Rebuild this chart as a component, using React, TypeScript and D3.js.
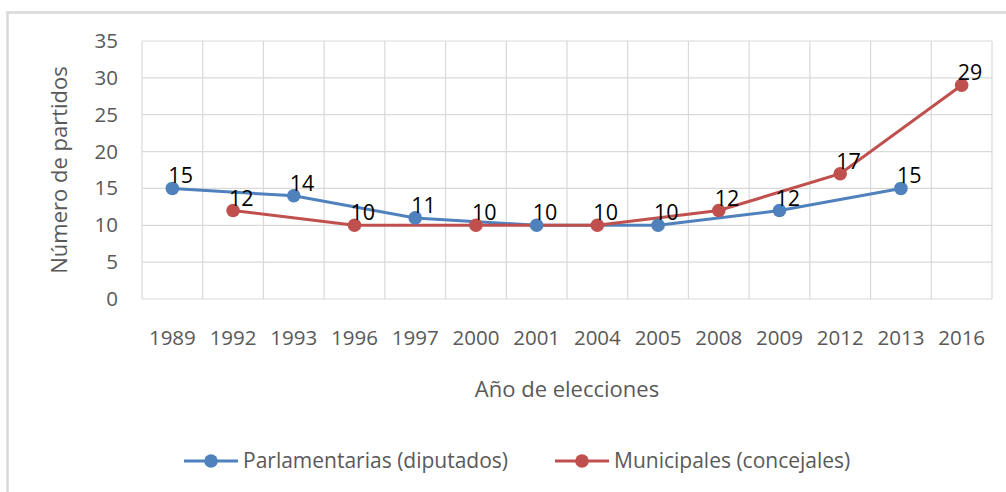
import React from "react";
import * as d3 from "d3";

const years = ["1989", "1992", "1993", "1996", "1997", "2000", "2001", "2004", "2005", "2008", "2009", "2012", "2013", "2016"];
const parlYears = ["1989", "1993", "1997", "2001", "2005", "2009", "2013"];
const parlValues = [15, 14, 11, 10, 10, 12, 15];
const muniYears = ["1992", "1996", "2000", "2004", "2008", "2012", "2016"];
const muniValues = [12, 10, 10, 10, 12, 17, 29];
const yTicks = [0, 5, 10, 15, 20, 25, 30, 35];

const W = 1006;
const H = 492;
const FONT = "'Open Sans', 'Liberation Sans', sans-serif";
const GRAY = "#595959";
const GRID = "#D9D9D9";

const series = [
  { name: "Parlamentarias (diputados)", color: "#4F81BD", years: parlYears, values: parlValues },
  { name: "Municipales (concejales)", color: "#C0504D", years: muniYears, values: muniValues },
];

export default function App() {
  const x = d3.scaleBand<string>().domain(years).range([142, 992]).paddingInner(0).paddingOuter(0);
  const y = d3.scaleLinear().domain([0, 35]).range([299, 41]);
  const cx = (yr: string) => (x(yr) ?? 0) + x.bandwidth() / 2;

  const line = d3
    .line<[string, number]>()
    .x((d) => cx(d[0]))
    .y((d) => y(d[1]));

  const pts = series.map((s) => s.years.map((yr, i) => [yr, s.values[i]] as [string, number]));

  // legend entry placement
  const legendPos = [
    { x1: 184, x2: 238, tx: 243 },
    { x1: 555, x2: 609, tx: 614 },
  ];

  return (
    <svg
      width={W}
      height={H}
      style={{ position: "absolute", left: 0, top: 0, background: "#fff" }}
      fontFamily={FONT}
    >
      <rect x={7.5} y={12.5} width={W + 20} height={H + 20} fill="#fff" stroke={GRID} strokeWidth={2.5} />

      {/* gridlines */}
      {yTicks.map((t) => (
        <line key={"h" + t} x1={142} x2={992} y1={y(t)} y2={y(t)} stroke={GRID} strokeWidth={1.2} />
      ))}
      {years.map((yr) => (
        <line key={"v" + yr} x1={x(yr)} x2={x(yr)} y1={41} y2={299} stroke={GRID} strokeWidth={1.2} />
      ))}
      <line x1={992} x2={992} y1={41} y2={299} stroke={GRID} strokeWidth={1.2} />

      {/* y tick labels */}
      {yTicks.map((t) => (
        <text key={"yt" + t} x={118} y={y(t) + 7} textAnchor="end" fontSize={20.5} fill={GRAY}>
          {t}
        </text>
      ))}

      {/* x tick labels */}
      {years.map((yr) => (
        <text key={"xt" + yr} x={cx(yr)} y={345} textAnchor="middle" fontSize={20.5} fill={GRAY}>
          {yr}
        </text>
      ))}

      {/* axis titles */}
      <text x={567} y={397} textAnchor="middle" fontSize={22} fill={GRAY}>
        Año de elecciones
      </text>
      <text transform="translate(67,170) rotate(-90)" textAnchor="middle" fontSize={22} fill={GRAY}>
        Número de partidos
      </text>

      {/* lines first, then markers, then labels */}
      {series.map((s, i) => (
        <path key={"l" + i} d={line(pts[i]) ?? ""} fill="none" stroke={s.color} strokeWidth={3} />
      ))}
      {series.map((s, i) =>
        pts[i].map((p) => <circle key={s.name + p[0]} cx={cx(p[0])} cy={y(p[1])} r={6.8} fill={s.color} />)
      )}
      {series.map((s, i) =>
        pts[i].map((p) => (
          <text key={"dl" + s.name + p[0]} x={cx(p[0]) - 4} y={y(p[1]) - 5} fontSize={21.5} fill="#000">
            {p[1]}
          </text>
        ))
      )}

      {/* legend */}
      {series.map((s, i) => (
        <g key={"lg" + i}>
          <line x1={legendPos[i].x1} x2={legendPos[i].x2} y1={461} y2={461} stroke={s.color} strokeWidth={3} />
          <circle cx={(legendPos[i].x1 + legendPos[i].x2) / 2} cy={461} r={6.8} fill={s.color} />
          <text x={legendPos[i].tx} y={468} fontSize={21} fill={GRAY}>
            {s.name}
          </text>
        </g>
      ))}
    </svg>
  );
}
